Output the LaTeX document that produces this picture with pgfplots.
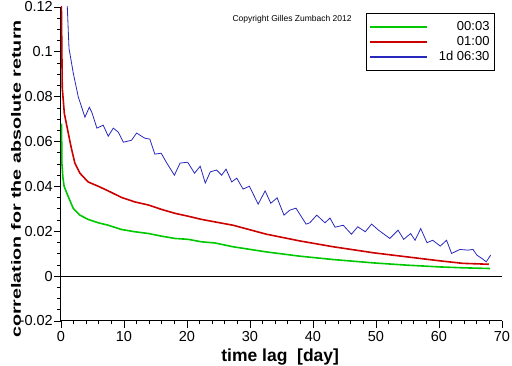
\documentclass[border=0pt]{standalone}
\usepackage{pgfplots}
\pgfplotsset{compat=1.18}
\usepackage{graphicx}
\usepackage{fontspec}
\setmainfont{Liberation Sans}
\definecolor{linegreen}{RGB}{0,200,0}
\definecolor{linered}{RGB}{205,0,0}
\definecolor{lineblue}{RGB}{40,40,190}
\begin{document}
\begin{tikzpicture}
\useasboundingbox (-61pt,-45pt) rectangle (451pt,321pt);
\begin{axis}[
  at={(0pt,0pt)}, anchor=south west,
  scale only axis, width=441pt, height=314pt,
  xmin=0, xmax=70, ymin=-0.02, ymax=0.12,
  axis x line=bottom, axis y line=left,
  axis line style={-, line width=1pt, black},
  xtick={0,10,...,70},
  ytick={-0.02,0,0.02,0.04,0.06,0.08,0.1,0.12},
  minor x tick num=4, minor y tick num=3,
  tick align=outside,
  major tick length=7pt, minor tick length=3.5pt,
  tick style={black, line width=0.8pt},
  scaled y ticks=false,
  /pgf/number format/assume math mode=true,
  yticklabel={\pgfmathprintnumber[fixed,precision=2,assume math mode=true]{\tick}},
  ticklabel style={font=\fontsize{14.5}{16}\selectfont},
  yticklabel style={inner xsep=1pt},
  xticklabel style={inner ysep=3.5pt},
  xlabel={\bfseries time lag\ \ [day]},
  xlabel style={font=\fontsize{17.5}{20}\selectfont, at={(axis description cs:0.497,-0.115)}, anchor=center},
  ylabel={\scalebox{1.46}[1]{\bfseries correlation for the absolute return}},
  ylabel style={font=\fontsize{13.5}{16}\selectfont, at={(axis description cs:-0.102,0.452)}, anchor=center},
  legend style={at={(rel axis cs:0.984,0.981)}, anchor=north east,
    draw=black, line width=0.9pt, font=\fontsize{13}{15}\selectfont,
    inner xsep=3pt, inner ysep=6pt, row sep=0pt,
    nodes={inner ysep=1.5pt, text height=9.5pt, text depth=2.5pt},
    /tikz/every odd column/.append style={column sep=9pt}},
  legend cell align=right,
  legend image code/.code={\draw[#1, line width=1.3pt] (0pt,0pt) -- (57pt,0pt);},
  clip=true,
]
\addplot[color=linegreen, line width=1.6pt] coordinates {
(0.08,0.068) (0.15,0.050) (0.3,0.044) (0.5,0.040) (1.16,0.0354) (1.95,0.0302)
(3.0,0.0272) (4.3,0.0253) (5.9,0.0238) (7.5,0.0227) (9.6,0.0208) (11.7,0.0198)
(13.9,0.019) (16,0.0178) (18.1,0.0168) (20.2,0.0164) (22.3,0.0153) (24.4,0.0148)
(27.3,0.0131) (32.6,0.0108) (37.9,0.0089) (43.2,0.0074) (47.5,0.0064) (49.6,0.0059)
(54.9,0.0049) (60.2,0.0041) (64,0.0037) (68.1,0.0034)};
\addlegendentry{00:03}
\addplot[color=linered, line width=1.6pt] coordinates {
(0.03,0.13) (0.1,0.11) (0.2,0.084) (0.53,0.0725) (1.16,0.0637) (1.6,0.0576) (2.2,0.0504)
(3.0,0.0459) (4.3,0.042) (5.9,0.0401) (7.5,0.038) (9.6,0.0351) (11.7,0.0331)
(13.9,0.0317) (16,0.0297) (18.1,0.028) (20.2,0.0267) (22.3,0.0253) (24.4,0.0242)
(27.3,0.0227) (32.6,0.0187) (37.9,0.0157) (43.2,0.0131) (47.5,0.0113) (49.6,0.0104)
(54.9,0.0086) (60.2,0.0068) (63.8,0.0057) (67.9,0.0053)};
\addlegendentry{01:00}
\addplot[color=lineblue, line width=0.8pt] coordinates {
(0.95,0.13) (1.0,0.12) (1.27,0.1016) (1.95,0.0905) (2.75,0.0798) (3.8,0.0709)
(4.5,0.0753) (4.9,0.073) (5.7,0.066) (6.7,0.0673) (7.5,0.0624) (8.3,0.066)
(9.1,0.0642) (9.9,0.0597) (11.2,0.0606) (12.0,0.0638) (13.3,0.0615) (14.1,0.0611)
(14.9,0.0544) (15.9,0.0548) (16.8,0.0504) (18.0,0.045) (18.9,0.0504) (20.1,0.0508)
(21.2,0.0459) (22.1,0.049) (22.9,0.0415) (23.7,0.0465) (24.7,0.0473) (25.5,0.045)
(26.2,0.0477) (27.1,0.042) (27.9,0.0437) (28.9,0.0388) (29.9,0.0401) (31.3,0.0321)
(32.4,0.038) (33.3,0.0325) (34.3,0.0349) (35.4,0.0272) (36.3,0.0294) (37.3,0.0303)
(38.9,0.0232) (39.5,0.0238) (40.6,0.0272) (41.9,0.0238) (42.7,0.0259) (43.5,0.0218)
(44.8,0.0227) (46.1,0.0187) (47.1,0.022) (48.3,0.0198) (49.3,0.0232) (50.4,0.0205)
(52.2,0.0168) (53.5,0.0205) (54.4,0.0164) (55.5,0.019) (56.2,0.016) (57.1,0.0212)
(58.1,0.0149) (59.0,0.016) (60.2,0.0134) (61.2,0.016) (62.0,0.0101) (63.3,0.0119)
(64.6,0.0116) (65.4,0.0119) (66.0,0.0094) (66.8,0.0079) (67.5,0.0064) (68.2,0.0094)};
\addlegendentry{1d 06:30}
\addplot[black, line width=1pt, forget plot] coordinates {(0,0) (70,0)};
\node[font=\fontsize{8.5}{10}\selectfont, anchor=center] at (rel axis cs:0.524,0.962) {Copyright Gilles Zumbach 2012};
\end{axis}
\end{tikzpicture}
\end{document}
